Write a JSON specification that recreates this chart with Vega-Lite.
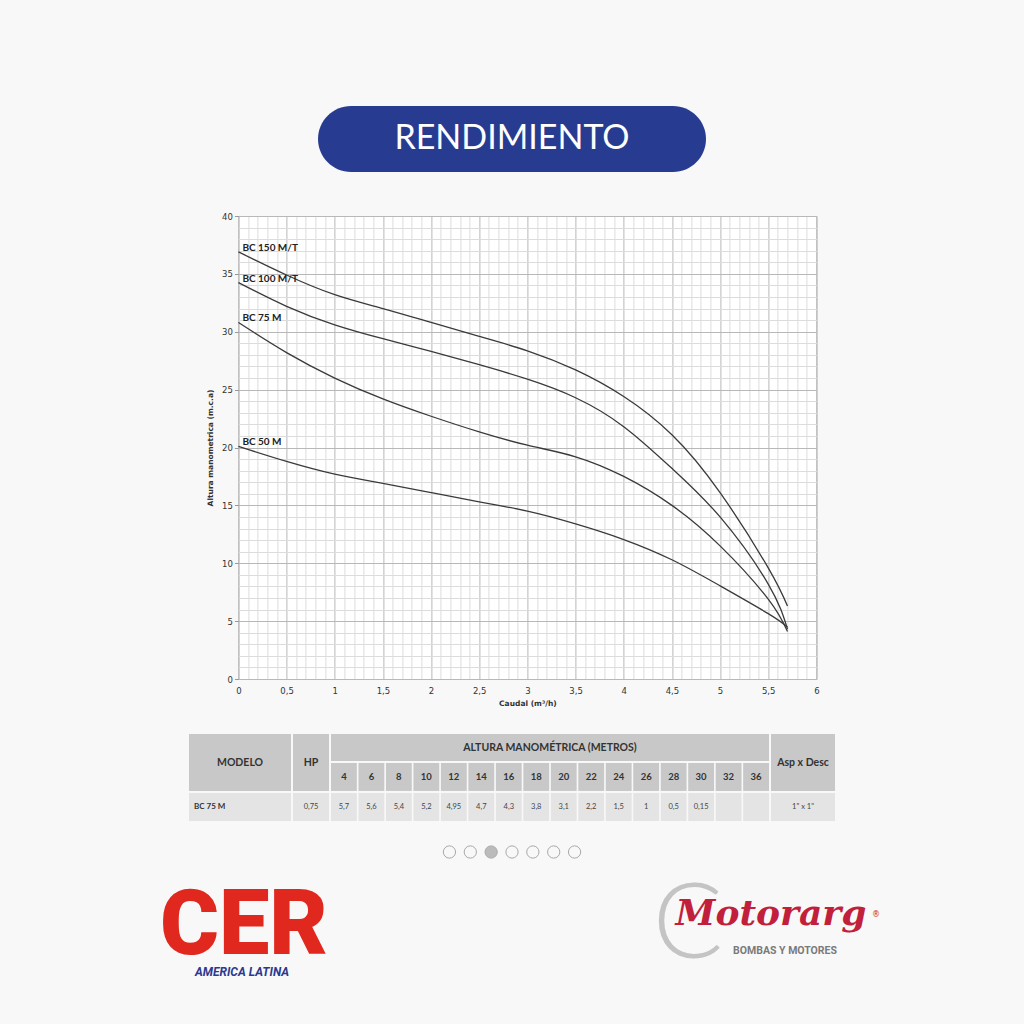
{
"$schema":"https://vega.github.io/schema/vega-lite/v6.json",
"background":"#f8f8f8",
"padding":{"left":107,"top":106,"right":107,"bottom":60},
"config":{"view":{"stroke":null},"font":"Lato"},
"spacing":39,
"center":true,
"vconcat":[
{"width":388,"height":66,"view":{"fill":"#273c91","cornerRadius":33,"stroke":null},
 "data":{"values":[{"t":"RENDIMIENTO"}]},
 "mark":{"type":"text","font":"Lato","fontSize":34,"color":"white","baseline":"middle"},
 "encoding":{"text":{"field":"t"}}},
{"spacing":22,"center":true,"vconcat":[
 {"spacing":26,"center":true,"vconcat":[
 {"spacing":0,"hconcat":[
 {"width":1,"height":463,"data":{"values":[{"t":""}]},"mark":{"type":"text"},"encoding":{"text":{"field":"t"}}},
 {"width":578,"height":463,
  "view":{"fill":"white","stroke":"#b5b5b5"},
  "data":{"values":[
   {"m":"BC 150 M/T","q":0,"h":36.9},{"m":"BC 150 M/T","q":0.5,"h":34.9},{"m":"BC 150 M/T","q":1,"h":33.2},{"m":"BC 150 M/T","q":1.5,"h":32.0},{"m":"BC 150 M/T","q":2,"h":30.8},{"m":"BC 150 M/T","q":2.5,"h":29.6},{"m":"BC 150 M/T","q":3,"h":28.35},{"m":"BC 150 M/T","q":3.5,"h":26.7},{"m":"BC 150 M/T","q":4,"h":24.4},{"m":"BC 150 M/T","q":4.5,"h":21.1},{"m":"BC 150 M/T","q":5,"h":16.1},{"m":"BC 150 M/T","q":5.5,"h":9.6},{"m":"BC 150 M/T","q":5.7,"h":6.3},
   {"m":"BC 100 M/T","q":0,"h":34.25},{"m":"BC 100 M/T","q":0.5,"h":32.2},{"m":"BC 100 M/T","q":1,"h":30.6},{"m":"BC 100 M/T","q":1.5,"h":29.4},{"m":"BC 100 M/T","q":2,"h":28.3},{"m":"BC 100 M/T","q":2.5,"h":27.15},{"m":"BC 100 M/T","q":3,"h":25.9},{"m":"BC 100 M/T","q":3.5,"h":24.3},{"m":"BC 100 M/T","q":4,"h":21.8},{"m":"BC 100 M/T","q":4.5,"h":18.2},{"m":"BC 100 M/T","q":5,"h":14.0},{"m":"BC 100 M/T","q":5.5,"h":8.2},{"m":"BC 100 M/T","q":5.7,"h":4.3},
   {"m":"BC 75 M","q":0,"h":30.8},{"m":"BC 75 M","q":0.5,"h":28.2},{"m":"BC 75 M","q":1,"h":26.0},{"m":"BC 75 M","q":1.5,"h":24.2},{"m":"BC 75 M","q":2,"h":22.7},{"m":"BC 75 M","q":2.5,"h":21.35},{"m":"BC 75 M","q":3,"h":20.2},{"m":"BC 75 M","q":3.5,"h":19.2},{"m":"BC 75 M","q":4,"h":17.5},{"m":"BC 75 M","q":4.5,"h":15.0},{"m":"BC 75 M","q":5,"h":11.5},{"m":"BC 75 M","q":5.5,"h":6.9},{"m":"BC 75 M","q":5.7,"h":4.1},
   {"m":"BC 50 M","q":0,"h":20.1},{"m":"BC 50 M","q":0.5,"h":18.8},{"m":"BC 50 M","q":1,"h":17.7},{"m":"BC 50 M","q":1.5,"h":16.9},{"m":"BC 50 M","q":2,"h":16.1},{"m":"BC 50 M","q":2.5,"h":15.3},{"m":"BC 50 M","q":3,"h":14.5},{"m":"BC 50 M","q":3.5,"h":13.4},{"m":"BC 50 M","q":4,"h":12.05},{"m":"BC 50 M","q":4.5,"h":10.3},{"m":"BC 50 M","q":5,"h":8.05},{"m":"BC 50 M","q":5.5,"h":5.65},{"m":"BC 50 M","q":5.7,"h":4.5}
  ]},
  "layer":[
   {"mark":{"type":"line","opacity":0},
    "encoding":{
     "x":{"field":"q","type":"quantitative","scale":{"domain":[0,6],"nice":false},
      "axis":{"orient":"bottom","values":[0.1,0.2,0.3,0.4,0.6,0.7,0.8,0.9,1.1,1.2,1.3,1.4,1.6,1.7,1.8,1.9,2.1,2.2,2.3,2.4,2.6,2.7,2.8,2.9,3.1,3.2,3.3,3.4,3.6,3.7,3.8,3.9,4.1,4.2,4.3,4.4,4.6,4.7,4.8,4.9,5.1,5.2,5.3,5.4,5.6,5.7,5.8,5.9],"grid":true,"gridColor":"#dcdcdc","gridWidth":1,"labels":false,"ticks":false,"domain":false,"title":null}},
     "y":{"field":"h","type":"quantitative","scale":{"domain":[0,40],"nice":false},
      "axis":{"orient":"left","values":[1,2,3,4,6,7,8,9,11,12,13,14,16,17,18,19,21,22,23,24,26,27,28,29,31,32,33,34,36,37,38,39],"grid":true,"gridColor":"#dcdcdc","gridWidth":1,"labels":false,"ticks":false,"domain":false,"title":null}},
     "detail":{"field":"m"}}},
   {"mark":{"type":"line","color":"#3a3a3a","strokeWidth":1.3,"interpolate":"natural"},
    "encoding":{
     "x":{"field":"q","type":"quantitative","scale":{"domain":[0,6],"nice":false},
      "axis":{"orient":"bottom","tickCount":12,"grid":true,"gridColor":"#b8b8b8","domain":false,"ticks":false,"labelExpr":"replace(toString(datum.value), '.', ',')","labelFont":"DejaVu Sans","labelFontSize":8.5,"labelColor":"#333","labelPadding":7,"labelFlush":false,"title":"Caudal (m³/h)","titleFont":"DejaVu Sans","titleFontSize":7.5,"titleFontWeight":"bold","titleColor":"#333","titlePadding":5}},
     "y":{"field":"h","type":"quantitative","scale":{"domain":[0,40],"nice":false},
      "axis":{"orient":"left","tickCount":8,"grid":true,"gridColor":"#b8b8b8","domain":false,"ticks":true,"tickSize":4,"tickColor":"#999","labelFont":"DejaVu Sans","labelFontSize":8.5,"labelColor":"#333","labelPadding":2,"title":"Altura manometrica (m.c.a)","titleFont":"DejaVu Sans","titleFontSize":7.5,"titleFontWeight":"bold","titleColor":"#333","titlePadding":7}},
     "detail":{"field":"m"}}},
   {"transform":[{"filter":"datum.q == 0"}],
    "mark":{"type":"text","align":"left","baseline":"alphabetic","dx":4,"dy":-1,"font":"Lato","fontWeight":"bold","fontSize":10,"color":"#222"},
    "encoding":{
     "x":{"field":"q","type":"quantitative","axis":null},
     "y":{"field":"h","type":"quantitative","axis":null},
     "text":{"field":"m"}}}
  ],
  "resolve":{"axis":{"x":"independent","y":"independent"}}
 }]},
 {"spacing":2,"hconcat":[
  {"spacing":2,"vconcat":[
   {"width":102,"height":57,"view":{"fill":"#c8c8c8"},"data":{"values":[{"t":"MODELO"}]},
    "mark":{"type":"text","font":"Lato","fontWeight":"bold","fontSize":10.5,"color":"#333"},"encoding":{"text":{"field":"t"}}},
   {"width":102,"height":28,"view":{"fill":"#e4e4e4"},"data":{"values":[{"t":"BC 75 M"}]},
    "mark":{"type":"text","align":"left","dx":-46,"font":"Lato","fontWeight":"bold","fontSize":8,"color":"#333"},"encoding":{"text":{"field":"t"}}}
  ]},
  {"spacing":2,"vconcat":[
   {"width":36,"height":57,"view":{"fill":"#c8c8c8"},"data":{"values":[{"t":"HP"}]},
    "mark":{"type":"text","font":"Lato","fontWeight":"bold","fontSize":10.5,"color":"#333"},"encoding":{"text":{"field":"t"}}},
   {"width":36,"height":28,"view":{"fill":"#e4e4e4"},"data":{"values":[{"t":"0,75"}]},
    "mark":{"type":"text","font":"Lato","fontSize":7.5,"color":"#444"},"encoding":{"text":{"field":"t"}}}
  ]},
  {"spacing":2,"vconcat":[
   {"width":438,"height":27,"view":{"fill":"#c8c8c8"},"data":{"values":[{"t":"ALTURA MANOMÉTRICA (METROS)"}]},
    "mark":{"type":"text","font":"Lato","fontWeight":"bold","fontSize":10.5,"color":"#333"},"encoding":{"text":{"field":"t"}}},
   {"width":438,"height":58,
    "data":{"values":[
     {"c":"4","r":"hdr","t":"4"},{"c":"6","r":"hdr","t":"6"},{"c":"8","r":"hdr","t":"8"},{"c":"10","r":"hdr","t":"10"},{"c":"12","r":"hdr","t":"12"},{"c":"14","r":"hdr","t":"14"},{"c":"16","r":"hdr","t":"16"},{"c":"18","r":"hdr","t":"18"},{"c":"20","r":"hdr","t":"20"},{"c":"22","r":"hdr","t":"22"},{"c":"24","r":"hdr","t":"24"},{"c":"26","r":"hdr","t":"26"},{"c":"28","r":"hdr","t":"28"},{"c":"30","r":"hdr","t":"30"},{"c":"32","r":"hdr","t":"32"},{"c":"36","r":"hdr","t":"36"},
     {"c":"4","r":"val","t":"5,7"},{"c":"6","r":"val","t":"5,6"},{"c":"8","r":"val","t":"5,4"},{"c":"10","r":"val","t":"5,2"},{"c":"12","r":"val","t":"4,95"},{"c":"14","r":"val","t":"4,7"},{"c":"16","r":"val","t":"4,3"},{"c":"18","r":"val","t":"3,8"},{"c":"20","r":"val","t":"3,1"},{"c":"22","r":"val","t":"2,2"},{"c":"24","r":"val","t":"1,5"},{"c":"26","r":"val","t":"1"},{"c":"28","r":"val","t":"0,5"},{"c":"30","r":"val","t":"0,15"},{"c":"32","r":"val","t":""},{"c":"36","r":"val","t":""}
    ]},
    "encoding":{
     "x":{"field":"c","type":"ordinal","sort":null,"scale":{"paddingInner":0.06,"paddingOuter":0},"axis":null},
     "y":{"field":"r","type":"ordinal","scale":{"domain":["hdr","val"],"paddingInner":0.07,"paddingOuter":0},"axis":null}},
    "layer":[
     {"mark":{"type":"rect"},"encoding":{"color":{"field":"r","type":"nominal","scale":{"domain":["hdr","val"],"range":["#c8c8c8","#e4e4e4"]},"legend":null}}},
     {"transform":[{"filter":"datum.r == 'hdr'"}],"mark":{"type":"text","font":"Lato","fontWeight":"bold","fontSize":9.5,"color":"#333"},"encoding":{"text":{"field":"t"}}},
     {"transform":[{"filter":"datum.r == 'val'"}],"mark":{"type":"text","font":"Lato","fontSize":7.5,"color":"#444"},"encoding":{"text":{"field":"t"}}}
    ]}
  ]},
  {"spacing":2,"vconcat":[
   {"width":64,"height":57,"view":{"fill":"#c8c8c8"},"data":{"values":[{"t":"Asp x Desc"}]},
    "mark":{"type":"text","font":"Lato","fontWeight":"bold","fontSize":10.5,"color":"#333"},"encoding":{"text":{"field":"t"}}},
   {"width":64,"height":28,"view":{"fill":"#e4e4e4"},"data":{"values":[{"t":"1\" x 1\""}]},
    "mark":{"type":"text","font":"Lato","fontSize":7.5,"color":"#444"},"encoding":{"text":{"field":"t"}}}
  ]}
 ]}
 ]},
 {"spacing":14,"center":true,"vconcat":[
 {"width":146,"height":10,
  "data":{"values":[{"i":1,"a":0},{"i":2,"a":0},{"i":3,"a":1},{"i":4,"a":0},{"i":5,"a":0},{"i":6,"a":0},{"i":7,"a":0}]},
  "mark":{"type":"point","filled":true,"size":150,"stroke":"#a9a9a9","strokeWidth":1,"opacity":1},
  "encoding":{
   "x":{"field":"i","type":"ordinal","scale":{"padding":0.5},"axis":null},
   "fill":{"field":"a","type":"nominal","scale":{"domain":[0,1],"range":["#f8f8f8","#bbbbbb"]},"legend":null}}},
 {"spacing":210,"hconcat":[
  {"width":300,"height":100,
   "data":{"values":[{"t":"CER","s":"AMERICA LATINA"}]},
   "layer":[
    {"mark":{"type":"text","font":"Roboto","fontWeight":900,"fontSize":90,"color":"#e0281f","dx":-13,"dy":1.5},"encoding":{"text":{"field":"t"}}},
    {"mark":{"type":"text","font":"Roboto","fontWeight":"bold","fontStyle":"italic","fontSize":12,"color":"#2b3990","dx":-15,"dy":47},"encoding":{"text":{"field":"s"}}}
   ]},
  {"width":300,"height":100,
   "data":{"values":[{"c":"C","b":"Motorarg","r":"®","s":"BOMBAS Y MOTORES"}]},
   "layer":[
    {"mark":{"type":"text","font":"Lato","fontWeight":300,"fontSize":104,"color":"#c4c4c4","dx":-79,"dy":2},"encoding":{"text":{"field":"c"}}},
    {"mark":{"type":"text","font":"DejaVu Serif","fontWeight":"bold","fontStyle":"italic","fontSize":36,"color":"#c11f3c","dx":4,"dy":-11},"encoding":{"text":{"field":"b"}}},
    {"mark":{"type":"text","font":"DejaVu Sans","fontSize":8,"color":"#c11f3c","dx":109,"dy":-10},"encoding":{"text":{"field":"r"}}},
    {"mark":{"type":"text","font":"Roboto","fontWeight":"bold","fontSize":10.5,"color":"#7a7a7a","dx":18,"dy":26},"encoding":{"text":{"field":"s"}}}
   ]}
 ]}
 ]}
]}
]
}
